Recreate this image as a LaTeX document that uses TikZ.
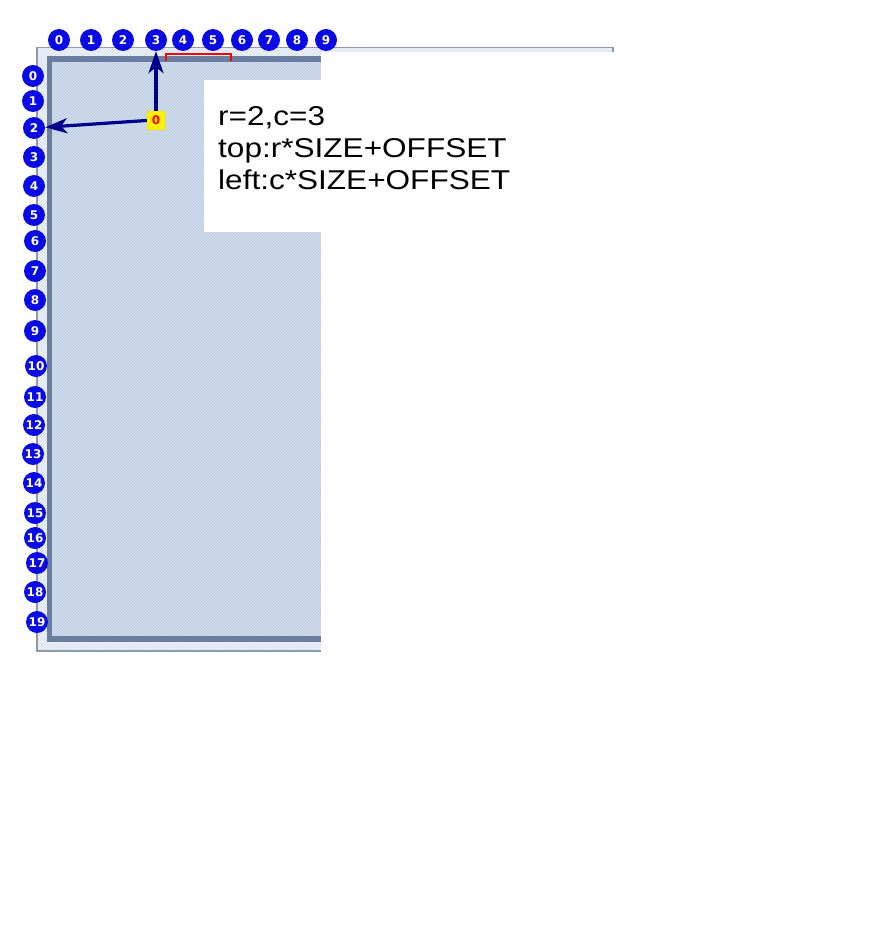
\documentclass[tikz,border=0pt]{standalone}
\usepackage{fontspec}
\usetikzlibrary{arrows.meta, patterns}
\newfontfamily\notefont[FakeStretch=1.16]{Liberation Sans}
\newfontfamily\numfont{DejaVu Sans}
\definecolor{ballblue}{HTML}{0A0AE6}
\definecolor{arrownavy}{HTML}{00008C}
\definecolor{panelblue}{HTML}{BCCDE3}
\definecolor{paneledge}{HTML}{D8E3F1}
\definecolor{bandgray}{HTML}{6B7E9F}
\definecolor{rimgray}{HTML}{8E9AA8}

\begin{document}
\begin{tikzpicture}[
    x=1pt, y=-1pt,
    num/.style={circle, fill=ballblue, text=white, inner sep=0pt, minimum size=22pt, font=\numfont\bfseries\fontsize{12}{12}\selectfont},
    marker/.style={fill=yellow, draw=yellow!80!black, rounded corners=1pt, text=red, inner sep=0pt, minimum width=18pt, minimum height=19pt, font=\numfont\bfseries\fontsize{12}{12}\selectfont},
    noteline/.style={anchor=base west, inner sep=0pt, font=\notefont\fontsize{27.2}{32}\selectfont},
    pointer/.style={arrownavy, line width=3.2pt, -{Stealth[length=22pt, width=15pt, inset=6pt]}}
]
\useasboundingbox (0,0) rectangle (879,925);

% board
\fill[paneledge] (37,47) rectangle (321,651);
\fill[paneledge] (321,47) rectangle (613,52);
\fill[pattern=north east lines, pattern color=white] (37,47) rectangle (321,651) (321,47) rectangle (613,52);
\fill[panelblue] (50,61) rectangle (321,638);
\fill[pattern=north east lines, pattern color=panelblue!45!white] (50,61) rectangle (321,638);
\draw[bandgray, line width=5.5pt] (321,59) -- (49.5,59) -- (49.5,639) -- (321,639);
\draw[rimgray, line width=1.2pt] (321,651) -- (37,651) -- (37,47.5) -- (613,47.5) -- (613,52);
\draw[red, line width=2pt] (166,61) -- (166,54) -- (231,54) -- (231,61);

% note
\fill[white] (204,80) rectangle (321,232);
\node[noteline] (line1) at (218,126) {r=2,c=3};
\node[noteline] (line2) at (218,158) {top:r*SIZE+OFFSET};
\node[noteline] (line3) at (218,190) {left:c*SIZE+OFFSET};

% numbering
\foreach \x [count=\i from 0] in {59,91,123,156,183,213,242,269,297,326}
    \node[num] (c\i) at (\x,40) {\i};
\foreach \x/\y [count=\i from 0] in {33/76,33/101,34/128,34/157,34/186,34/215,35/241,35/271,35/300,35/331,
    36/366,35/397,34/425,33/454,34/483,35/513,35/538,37/563,35/592,37/622}
    \node[num] (r\i) at (\x,\y) {\i};

\node[marker] (zero) at (156,120.5) {0};

\draw[pointer] (zero.north) -- (c3.south);
\draw[pointer] (zero.west) -- (r2);

\end{tikzpicture}
\end{document}
